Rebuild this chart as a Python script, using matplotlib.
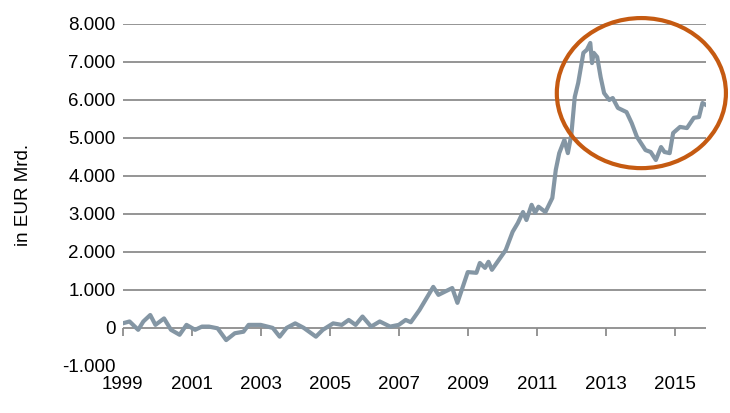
import matplotlib
matplotlib.use('Agg')
import matplotlib.pyplot as plt
from matplotlib.patches import Ellipse

plt.rcParams['font.family'] = ['Liberation Sans', 'DejaVu Sans']

years = [1999.0, 1999.2, 1999.45, 1999.6, 1999.8, 1999.95, 2000.2, 2000.4, 2000.65, 2000.85,
         2001.1, 2001.3, 2001.5, 2001.75, 2002.0, 2002.25, 2002.5, 2002.65, 2002.85, 2003.0,
         2003.35, 2003.55, 2003.75, 2004.0, 2004.25, 2004.6, 2004.8, 2005.1, 2005.35, 2005.55,
         2005.75, 2005.95, 2006.2, 2006.45, 2006.75, 2007.0, 2007.2, 2007.35, 2007.6, 2008.0,
         2008.15, 2008.55, 2008.7, 2009.0, 2009.25, 2009.35, 2009.5, 2009.6, 2009.7, 2009.9,
         2010.1, 2010.3, 2010.45, 2010.6, 2010.7, 2010.85, 2010.95, 2011.05, 2011.25, 2011.45,
         2011.55, 2011.65, 2011.8, 2011.9, 2012.0, 2012.1, 2012.2, 2012.35, 2012.45, 2012.55,
         2012.6, 2012.65, 2012.75, 2012.85, 2012.95, 2013.1, 2013.2, 2013.35, 2013.6, 2013.75,
         2013.9, 2014.05, 2014.15, 2014.3, 2014.45, 2014.6, 2014.7, 2014.85, 2014.95, 2015.15,
         2015.35, 2015.55, 2015.7, 2015.8, 2015.9]
values = [120, 170, -50, 170, 340, 80, 250, -50, -180, 80,
          -50, 35, 35, -10, -320, -140, -100, 80, 80, 80,
          0, -230, 0, 120, 0, -230, -50, 120, 80, 210,
          80, 300, 35, 170, 35, 80, 210, 150, 470, 1080,
          870, 1050, 660, 1470, 1450, 1710, 1580, 1740, 1530, 1790,
          2050, 2530, 2760, 3050, 2840, 3240, 3030, 3190, 3050, 3420,
          4160, 4600, 4950, 4600, 5080, 6080, 6450, 7240, 7320, 7500,
          6970, 7240, 7130, 6600, 6180, 6000, 6050, 5790, 5680, 5390,
          5030, 4820, 4680, 4630, 4420, 4760, 4630, 4600, 5130, 5290,
          5260, 5530, 5550, 5920, 5870]

y_ticks = list(range(-1000, 9000, 1000))
y_labels = ['-1.000', '0', '1.000', '2.000', '3.000', '4.000', '5.000', '6.000', '7.000', '8.000']
x_ticks = list(range(1999, 2016, 2))

fig = plt.figure(figsize=(7.3, 4.13), dpi=100)
ax = fig.add_axes([0.168, 0.114, 0.799, 0.828])

for t in y_ticks[2:]:
    ax.axhline(t, color='#8c8c8c', lw=1.3, zorder=1)
ax.axhline(0, color='#8c8c8c', lw=1.3, zorder=1)

ax.plot(years, values, color='#8496a4', lw=3, zorder=3, solid_joinstyle='round')

ax.add_patch(Ellipse((2014.03, 6180), 4.9, 3950, fill=False, edgecolor='#c55a11',
                     lw=3, clip_on=False, zorder=4))

ax.set_xlim(1999, 2015.9)
ax.set_ylim(-1000, 8000)
ax.set_yticks(y_ticks)
ax.set_yticklabels(y_labels)
ax.set_xticks(x_ticks)
ax.set_xticklabels([str(x) for x in x_ticks])
ax.tick_params(axis='both', length=0, labelsize=13.5, pad=5)
ax.tick_params(axis='x', pad=7)
for s in ax.spines.values():
    s.set_visible(False)

sec = ax.secondary_xaxis(1000 / 9000)
sec.set_xticks(x_ticks)
sec.tick_params(length=6, width=1.3, color='#8c8c8c', labelbottom=False)
sec.set_xticklabels([])
for s in sec.spines.values():
    s.set_visible(False)

ax.set_ylabel('in EUR Mrd.', fontsize=13.5, labelpad=22)

fig.savefig('out.png', dpi=100)
